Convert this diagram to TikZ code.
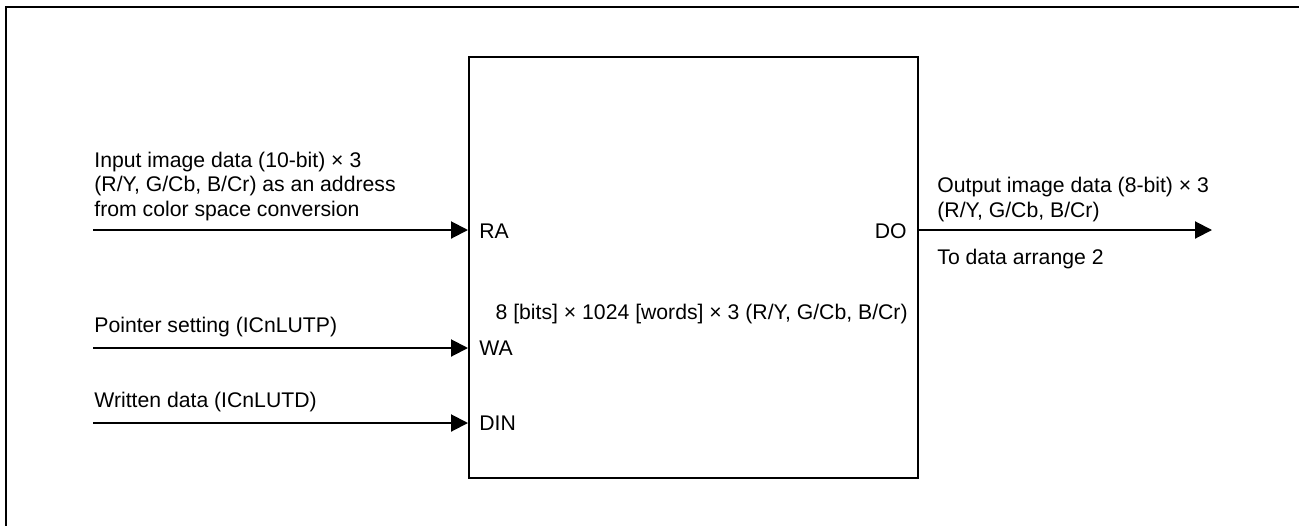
\documentclass[tikz,border=0pt]{standalone}
\usepackage{fontspec}
\setmainfont{Liberation Sans}
\usetikzlibrary{arrows.meta,positioning}

\begin{document}
\begin{tikzpicture}[
        x=0.5pt, y=-0.5pt,
        every node/.style={inner sep=0pt, font=\fontsize{10.6}{12.25}\selectfont},
        lbl/.style={anchor=base west, align=left},
        port/.style={anchor=base west},
        lutbox/.style={draw, line width=1pt, minimum width=224.5pt, minimum height=210.5pt},
        sig/.style={line width=1pt, -{Triangle[length=8.5pt, width=8.5pt]}},
        frame/.style={line width=1pt}
    ]
        \useasboundingbox (0,0) rectangle (1299,525);
        \draw[frame] (6,560) -- (6,7) -- (1330,7);

        \node[lutbox] (lut) at (693.5,267.5) {};

        \coordinate (inRA) at (93,230);
        \coordinate (inWA) at (93,348);
        \coordinate (inDIN) at (93,423);
        \coordinate (outDO) at (1212,230);

        \draw[sig] (inRA) -- (inRA -| lut.west);
        \draw[sig] (inWA) -- (inWA -| lut.west);
        \draw[sig] (inDIN) -- (inDIN -| lut.west);
        \draw[sig] (lut.east |- outDO) -- (outDO);

        \node[port] (ra) at (479,238) {RA};
        \node[port] (wa) at (479,355) {WA};
        \node[port] (din) at (479,430) {DIN};
        \node[anchor=base east] (do) at (907,238) {DO};
        \node[anchor=base east] (size) at (908,319)
        {8 [bits] × 1024 [words] × 3 (R/Y, G/Cb, B/Cr)};

        \node[lbl] (inlbl) at (94,216)
        {Input image data (10-bit) × 3\\(R/Y, G/Cb, B/Cr) as an address\\from color space conversion};
        \node[lbl] (walbl) at (94,332) {Pointer setting (ICnLUTP)};
        \node[lbl] (dinlbl) at (94,407) {Written data (ICnLUTD)};
        \node[lbl] (outlbl) at (937,217)
        {Output image data (8-bit) × 3\\(R/Y, G/Cb, B/Cr)};
        \node[lbl] (tolbl) at (937,264) {To data arrange 2};
    \end{tikzpicture}
\end{document}
